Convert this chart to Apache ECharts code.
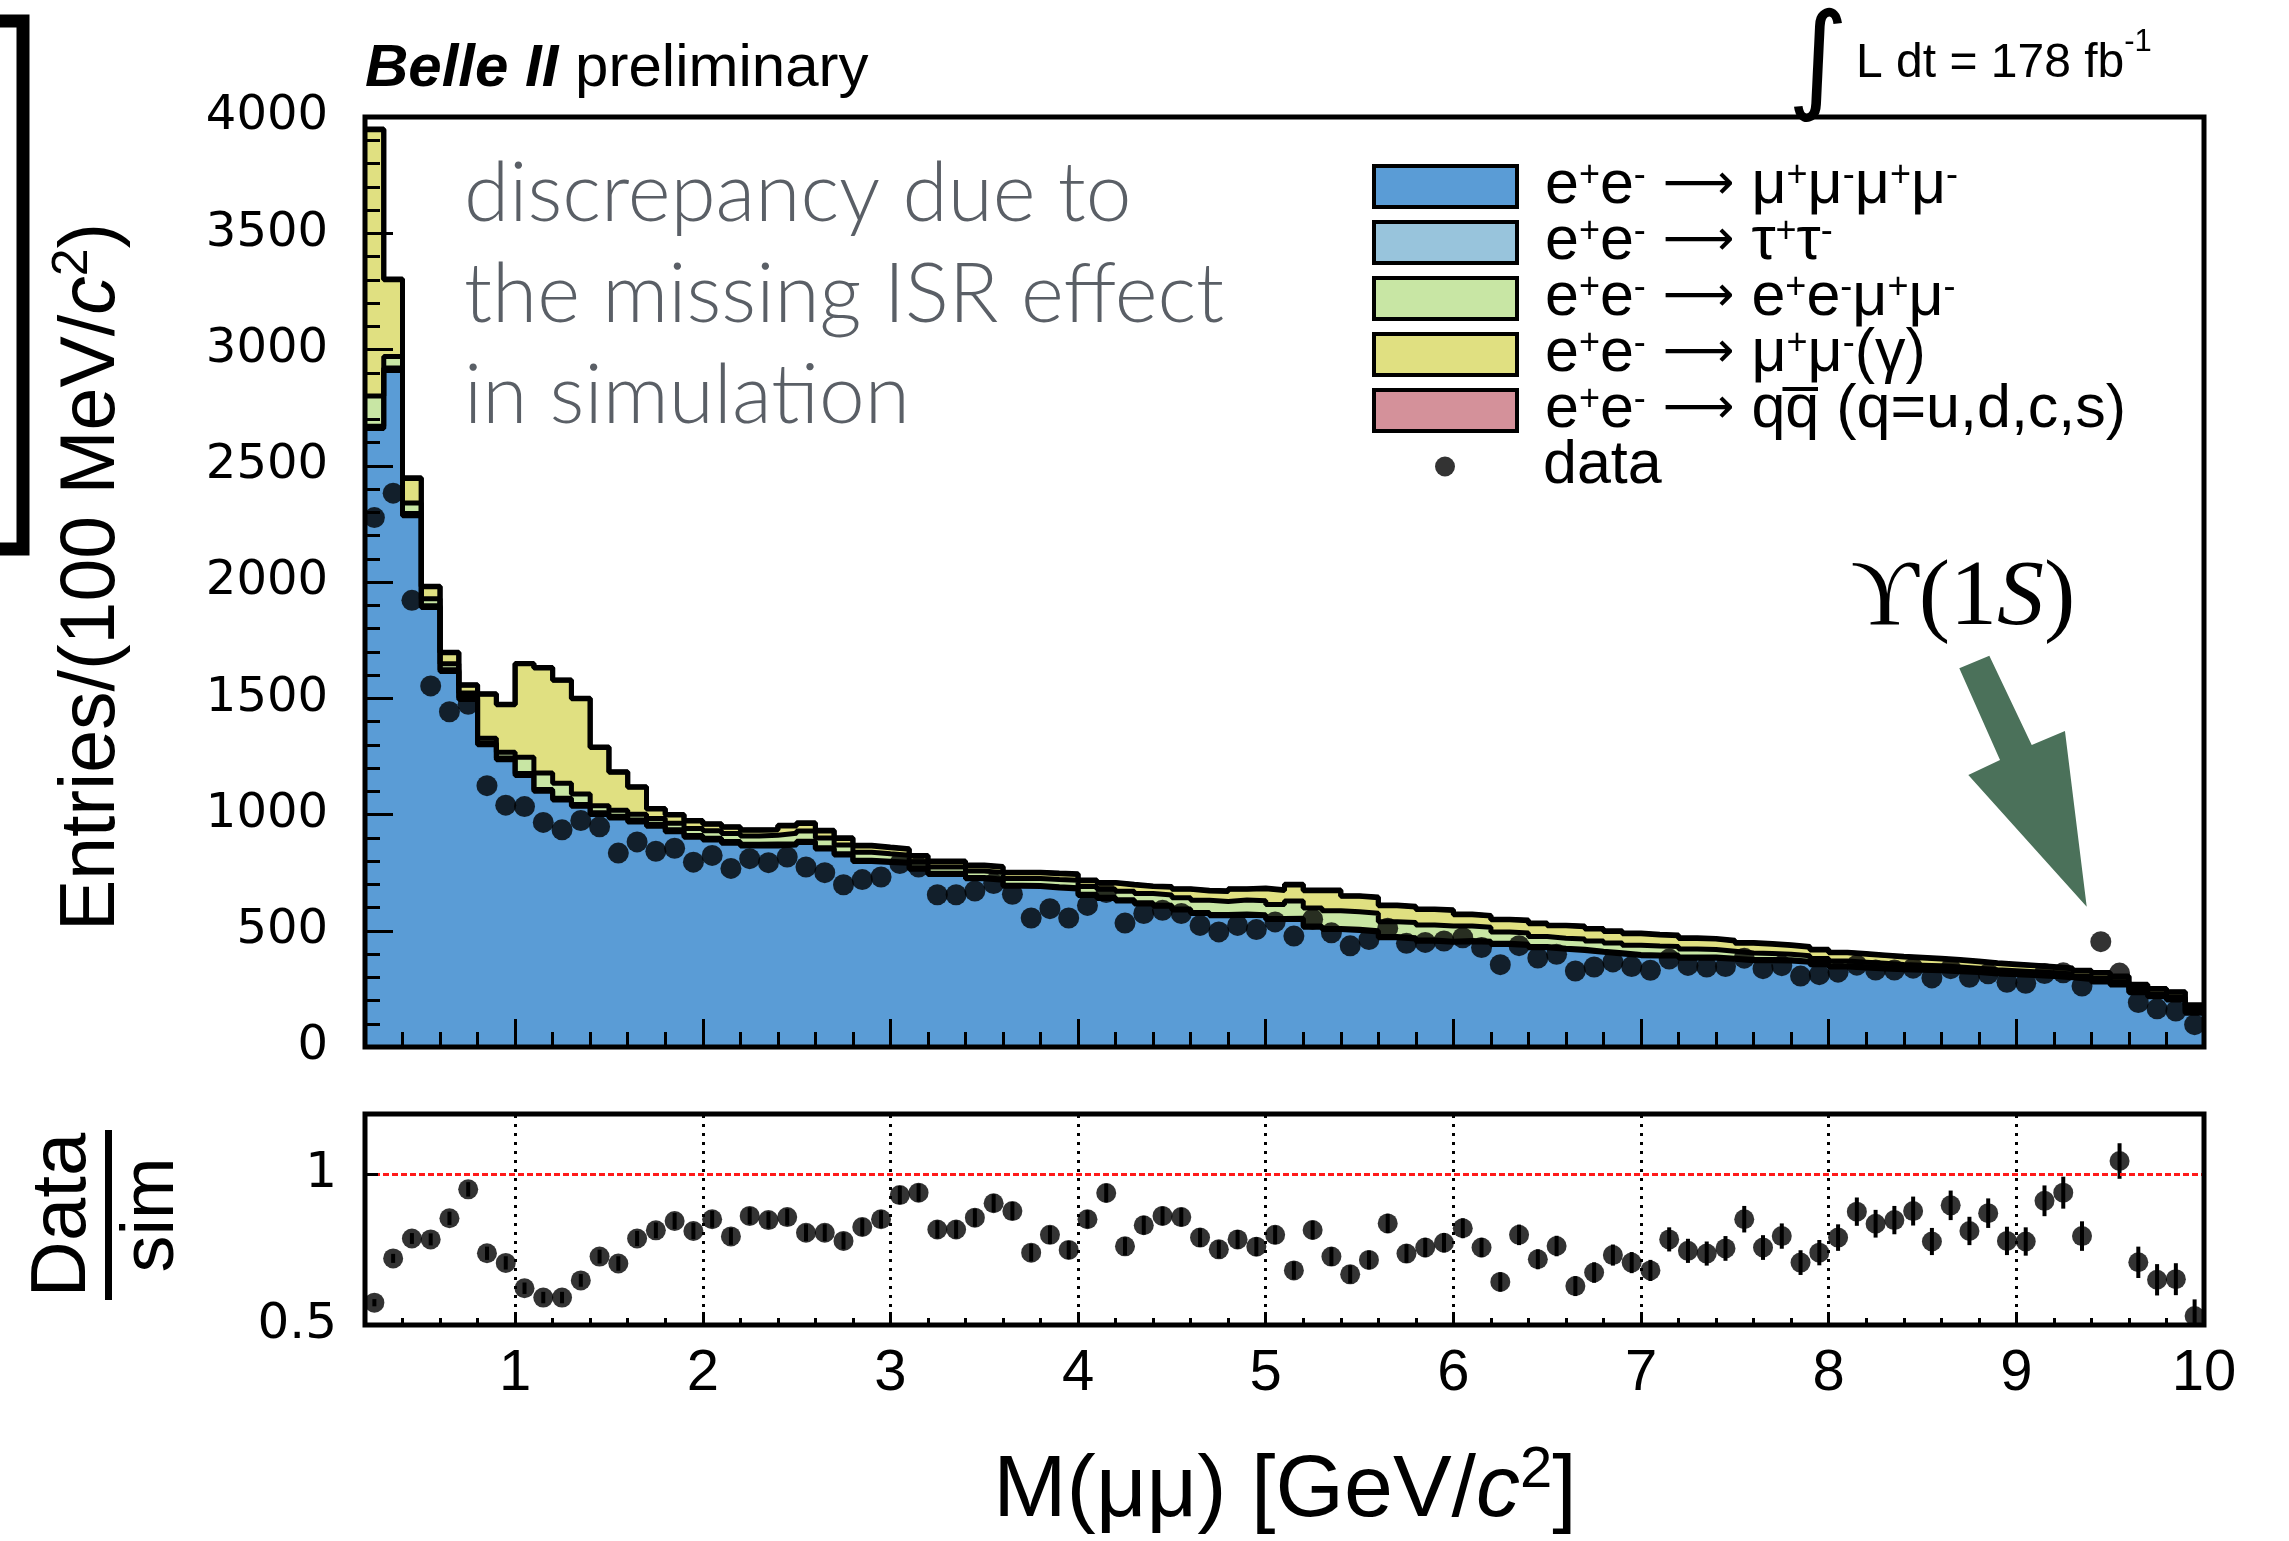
<!DOCTYPE html>
<html>
<head>
<meta charset="utf-8">
<script src="https://cdn.jsdelivr.net/npm/echarts@6/dist/echarts.min.js"></script>
<style>
  html, body { margin: 0; padding: 0; background: #ffffff; }
  #chart { width: 2289px; height: 1541px; }
</style>
</head>
<body>
<div id="chart"></div>
<script>
// Dimuon invariant mass, 100 MeV bins from 0.2 to 10.0 GeV/c^2
const xMin = 0.2;
const xMax = 10.0;
const binWidth = 0.1;

// Simulated contributions per bin (stacked, bottom to top)
const fourMu = [2660,2910,2285,1890,1615,1495,1300,1235,1168,1100,
  1062,1035,1000,985,968,950,926,902,890,876,
  864,865,869,880,852,826,798,794,790,764,
  742,742,724,717,691,690,684,680,652,639,
  628,615,605,589,574,565,567,564,548,549,
  515,505,501,495,470,465,455,450,453,450,
  441,437,427,420,415,407,400,393,391,391,
  382,382,377,371,371,370,364,354,344,340,
  336,332,330,328,324,320,314,311,307,303,
  298,290,280,267,233,216,202,145];
const tauTau = [10,10,10,8,8,8,8,8,8,8,
  8,8,8,8,8,8,8,8,8,8,
  8,8,5,5,5,5,5,5,5,5,
  5,5,5,5,5,5,5,5,5,5,
  5,5,5,5,5,5,5,5,5,5,
  5,5,5,5,5,5,5,5,5,5,
  5,5,5,5,5,5,5,5,5,5,
  5,5,5,5,5,5,5,5,5,5,
  5,5,5,5,5,5,5,5,5,5,
  5,5,5,5,5,5,5,5];
const eeMuMu = [130,50,45,30,25,20,20,25,70,70,
  64,45,30,25,25,25,28,30,32,34,
  36,38,45,44,42,38,35,32,30,28,
  27,27,28,28,29,30,31,32,33,35,
  37,40,44,48,52,56,60,60,60,74,
  78,76,76,75,64,65,65,65,62,60,
  49,48,43,43,45,44,42,40,38,36,
  34,32,30,28,26,24,23,22,21,20,
  19,18,17,16,15,14,13,12,12,11,
  11,10,10,9,9,8,8,7];
const muMuGamma = [1145,330,105,52,48,33,189,204,402,452,
  443,410,250,164,116,41,36,32,28,27,
  24,22,32,32,30,28,27,26,25,24,
  23,23,23,23,24,24,25,25,25,26,
  27,30,33,36,40,43,46,52,60,69,
  74,86,66,67,69,67,66,67,49,48,
  52,53,55,53,52,51,50,49,48,47,
  46,45,44,42,40,38,37,36,35,34,
  33,32,31,30,29,28,27,26,25,24,
  23,22,22,21,20,20,20,22];
const qqbar = [3,3,3,2,2,2,2,2,2,2,
  2,2,2,2,2,2,2,2,2,2,
  2,2,3,3,3,3,3,3,3,3,
  3,3,3,3,3,3,3,3,3,3,
  3,3,3,3,3,3,3,3,3,3,
  3,3,3,3,3,3,3,3,3,3,
  3,3,3,3,3,3,3,3,3,3,
  3,3,3,3,3,3,3,3,3,3,
  3,3,3,3,3,3,3,3,3,3,
  3,3,3,3,3,3,3,3];

// Observed events per bin
const dataCounts = [2277,2382,1921,1553,1442,1474,1124,1040,1034,966,
  934,974,947,834,882,842,855,795,824,768,
  810,793,817,774,750,698,720,731,789,774,
  655,655,671,703,657,555,595,555,609,664,
  533,574,588,574,523,495,523,505,538,477,
  550,491,435,462,511,446,450,456,470,428,
  354,436,383,399,327,344,366,346,330,378,
  351,344,346,382,337,350,305,311,322,352,
  331,331,339,297,337,300,315,278,274,316,
  319,262,453,318,191,164,155,96];

// Data / simulation ratio and its uncertainty
const ratio = [0.574,0.721,0.787,0.784,0.854,0.950,0.738,0.706,0.622,0.591,
  0.591,0.648,0.727,0.704,0.787,0.814,0.845,0.812,0.851,0.794,
  0.862,0.848,0.858,0.806,0.806,0.779,0.825,0.851,0.931,0.939,
  0.817,0.817,0.856,0.904,0.878,0.740,0.799,0.749,0.851,0.938,
  0.761,0.831,0.862,0.858,0.790,0.751,0.784,0.760,0.799,0.681,
  0.815,0.727,0.668,0.716,0.837,0.737,0.757,0.773,0.821,0.757,
  0.643,0.799,0.718,0.762,0.629,0.674,0.732,0.707,0.681,0.784,
  0.746,0.737,0.754,0.851,0.757,0.795,0.707,0.740,0.790,0.876,
  0.836,0.848,0.878,0.777,0.897,0.812,0.871,0.779,0.777,0.912,
  0.939,0.795,1.416,1.044,0.708,0.650,0.652,0.530];
const ratioErr = [0.012,0.015,0.018,0.020,0.022,0.024,0.022,0.022,0.019,0.019,
  0.019,0.021,0.023,0.024,0.025,0.026,0.027,0.027,0.028,0.028,
  0.028,0.028,0.028,0.028,0.028,0.028,0.029,0.029,0.030,0.030,
  0.030,0.030,0.030,0.030,0.030,0.029,0.030,0.030,0.030,0.031,
  0.030,0.031,0.031,0.031,0.031,0.030,0.031,0.031,0.031,0.030,
  0.031,0.031,0.030,0.031,0.032,0.031,0.032,0.032,0.033,0.032,
  0.032,0.034,0.033,0.034,0.033,0.034,0.035,0.035,0.035,0.040,
  0.040,0.040,0.041,0.044,0.041,0.042,0.041,0.042,0.044,0.047,
  0.046,0.047,0.048,0.045,0.049,0.047,0.049,0.047,0.047,0.051,
  0.053,0.049,0.067,0.059,0.052,0.052,0.053,0.055];

// Axis ticks and labels
const majorTicks = [1,2,3,4,5,6,7,8,9,10];
const ratioGridLines = [1,2,3,4,5,6,7,8,9];
const ratioLabels = [0.5, 1];
const yMainMax = 4000;
const ratioMin = 0.5, ratioMax = 1.2;

// Legend entries (bottom to top of the stack)
const componentNames = ['e+e- → μ+μ-μ+μ-', 'e+e- → τ+τ-', 'e+e- → e+e-μ+μ-', 'e+e- → μ+μ-(γ)', 'e+e- → qq̄ (q=u,d,c,s)'];
const componentRich = [
  '{g|}{n|e}{s|+}{n|e}{s|-}{n| }{a|⟶}{n| μ}{s|+}{n|μ}{s|-}{n|μ}{s|+}{n|μ}{s|-}',
  '{g|}{n|e}{s|+}{n|e}{s|-}{n| }{a|⟶}{n| τ}{s|+}{n|τ}{s|-}',
  '{g|}{n|e}{s|+}{n|e}{s|-}{n| }{a|⟶}{n| e}{s|+}{n|e}{s|-}{n|μ}{s|+}{n|μ}{s|-}',
  '{g|}{n|e}{s|+}{n|e}{s|-}{n| }{a|⟶}{n| μ}{s|+}{n|μ}{s|-}{n|(γ)}',
  '{g|}{n|e}{s|+}{n|e}{s|-}{n| }{a|⟶}{n| qq̅ (q=u,d,c,s)}'
];
const componentColors = ['#5a9cd6', '#98c4dc', '#c8e6a4', '#e0e081', '#d4919a'];

// Upsilon(1S) pointer, in (GeV/c^2, entries)
const arrowShape = [[8.696,1629],[8.856,1683],[9.082,1299],[9.259,1359],[9.375,603],[8.744,1170],[8.913,1234]];

// ---- layout ----
const PL = 365, PW = 1839;
const MT = 117, MH = 930;
const RT = 1114, RH = 211;
const SANS = 'Liberation Sans, Arial, Helvetica, sans-serif';
const WIDE = 'DejaVu Sans, Verdana, sans-serif';
const SERIF = 'Liberation Serif, Times New Roman, serif';
const LIGHT = 'Lato, Open Sans, sans-serif';

const nBins = fourMu.length;
const edges = Array.from({length: nBins + 1}, (_, i) => +(xMin + i * binWidth).toFixed(2));
const centers = Array.from({length: nBins}, (_, i) => +(xMin + (i + 0.5) * binWidth).toFixed(3));
const minorTicks = [];
for (let t = 0.4; t < xMax - 1e-6; t += 0.2) {
  const v = +t.toFixed(1);
  if (Math.abs(v - Math.round(v)) > 1e-6) minorTicks.push(v);
}

const layers = [fourMu, tauTau, eeMuMu, muMuGamma, qqbar];
const cumulative = [];
layers.forEach((arr, k) => {
  cumulative.push(arr.map((v, i) => v + (k > 0 ? cumulative[k - 1][i] : 0)));
});
const stepData = k => edges.map((x, i) => [x, cumulative[k][Math.min(i, nBins - 1)]]);

const series = [];
// filled areas, top layer first so lower layers paint over it
for (let k = layers.length - 1; k >= 0; k--) {
  series.push({
    type: 'line', name: componentNames[k], xAxisIndex: 0, yAxisIndex: 0,
    step: 'end', symbol: 'none', silent: true, z: 2,
    data: stepData(k),
    color: componentColors[k],
    itemStyle: { color: componentColors[k] },
    lineStyle: { opacity: 0, width: 0 },
    areaStyle: { color: componentColors[k], opacity: 1 }
  });
}
// black histogram outlines
for (let k = layers.length - 1; k >= 0; k--) {
  series.push({
    type: 'line', xAxisIndex: 0, yAxisIndex: 0,
    step: 'end', symbol: 'none', silent: true, z: 3,
    data: stepData(k),
    lineStyle: { color: '#000', width: 5 }
  });
}
series.push({
  type: 'scatter', name: 'data', xAxisIndex: 0, yAxisIndex: 0, z: 6,
  symbol: 'circle', symbolSize: 21, itemStyle: { color: '#000' },
  data: centers.map((x, i) => [x, dataCounts[i]])
});
// ratio uncertainties plus reference lines
series.push({
  type: 'custom', xAxisIndex: 1, yAxisIndex: 1, z: 4, silent: true,
  data: centers.map((x, i) => [x, ratio[i], ratioErr[i]]),
  renderItem: function (params, api) {
    const x = api.value(0), r = api.value(1), e = api.value(2);
    const lo = Math.max(r - e, ratioMin), hi = Math.min(r + e, ratioMax);
    if (hi <= lo) return;
    const p1 = api.coord([x, lo]), p2 = api.coord([x, hi]);
    return { type: 'line', shape: { x1: p1[0], y1: p1[1], x2: p2[0], y2: p2[1] },
             style: { stroke: '#000', lineWidth: 4 } };
  },
  markLine: {
    silent: true, symbol: ['none', 'none'], label: { show: false },
    lineStyle: { color: '#000', type: [3, 6], width: 3 },
    data: ratioGridLines.map(v => ({ xAxis: v })).concat([
      { yAxis: 1, lineStyle: { color: '#ff1a1a', type: [6, 3], width: 3 } }
    ])
  }
});
series.push({
  type: 'scatter', xAxisIndex: 1, yAxisIndex: 1, z: 6, silent: true,
  symbol: 'circle', symbolSize: 20, itemStyle: { color: '#000' },
  data: centers.map((x, i) => [x, ratio[i]])
});

const tickStyle = { color: '#000', width: 3 };
const baseX = { type: 'value', min: xMin, max: xMax, axisLine: { show: false }, splitLine: { show: false }, z: 10 };

const legendRich = {
  g: { width: 23 },
  n: { fontSize: 61, fontFamily: SANS, color: '#000', lineHeight: 56 },
  a: { fontSize: 50, fontFamily: WIDE, color: '#000', lineHeight: 56 },
  s: { fontSize: 36, fontFamily: SANS, color: '#000', lineHeight: 16, verticalAlign: 'top' }
};

const option = {
  animation: false,
  backgroundColor: '#ffffff',
  grid: [
    { left: PL, top: MT, width: PW, height: MH, containLabel: false, outerBoundsMode: 'none' },
    { left: PL, top: RT, width: PW, height: RH, containLabel: false, outerBoundsMode: 'none' },
    { left: PL, top: MT, width: PW, height: MH, containLabel: false, outerBoundsMode: 'none' },
    { left: PL, top: RT, width: PW, height: RH, containLabel: false, outerBoundsMode: 'none' }
  ],
  xAxis: [
    Object.assign({}, baseX, { gridIndex: 0, axisLabel: { show: false },
      axisTick: { inside: true, length: 28, lineStyle: tickStyle, customValues: majorTicks } }),
    Object.assign({}, baseX, { gridIndex: 1,
      axisLabel: { show: true, customValues: majorTicks, fontSize: 58, fontFamily: SANS, color: '#000', margin: 20 },
      axisTick: { inside: true, length: 13, lineStyle: tickStyle, customValues: majorTicks } }),
    Object.assign({}, baseX, { gridIndex: 2, axisLabel: { show: false },
      axisTick: { inside: true, length: 15, lineStyle: tickStyle, customValues: minorTicks } }),
    Object.assign({}, baseX, { gridIndex: 3, axisLabel: { show: false },
      axisTick: { inside: true, length: 7, lineStyle: tickStyle, customValues: minorTicks } })
  ],
  yAxis: [
    { gridIndex: 0, type: 'value', min: 0, max: yMainMax, interval: 500, z: 10,
      axisLine: { show: false }, splitLine: { show: false },
      axisLabel: { fontSize: 48, fontFamily: WIDE, color: '#000', margin: 37, formatter: v => String(v) },
      axisTick: { inside: true, length: 28, lineStyle: tickStyle },
      minorTick: { show: true, splitNumber: 5, length: 15, lineStyle: tickStyle } },
    { gridIndex: 1, type: 'value', min: ratioMin, max: ratioMax, z: 10,
      axisLine: { show: false }, splitLine: { show: false },
      axisLabel: { customValues: ratioLabels, fontSize: 50, fontFamily: WIDE, color: '#000', margin: 28, formatter: v => String(v) },
      axisTick: { inside: true, length: 13, lineStyle: tickStyle, customValues: ratioLabels } },
    { gridIndex: 2, type: 'value', min: 0, max: yMainMax, show: false },
    { gridIndex: 3, type: 'value', min: ratioMin, max: ratioMax, show: false }
  ],
  legend: [
    { data: componentNames, orient: 'vertical', left: 1372, top: 156, padding: 0,
      itemWidth: 143, itemHeight: 41, itemGap: -5, icon: 'rect', selectedMode: false,
      itemStyle: { borderColor: '#000', borderWidth: 4 },
      formatter: name => componentRich[componentNames.indexOf(name)],
      textStyle: { rich: legendRich } },
    { data: ['data'], orient: 'vertical', left: 1435, top: 436, padding: 0,
      itemWidth: 20, itemHeight: 20, icon: 'circle', selectedMode: false,
      itemStyle: { color: '#000' },
      formatter: () => '{g|}{n|data}',
      textStyle: { rich: Object.assign({}, legendRich, { g: { width: 83 } }) } }
  ],
  series: series
};

const chart = echarts.init(document.getElementById('chart'), null, { renderer: 'canvas', width: 2289, height: 1541 });
chart.setOption(option);

const textEl = (x, y, style, extra) => Object.assign({
  type: 'text', x: x, y: y, z: 120, silent: true,
  style: Object.assign({ align: 'left', verticalAlign: 'middle', fill: '#000' }, style)
}, extra || {});
const lightLine = (y, s) => textEl(464, y, { text: s, fontSize: 82, fontFamily: LIGHT, fontWeight: 300, fill: '#5a5f66' });

const graphics = [
  // plot frames
  { type: 'rect', z: 110, silent: true, shape: { x: PL, y: MT, width: PW, height: MH },
    style: { fill: 'none', stroke: '#000', lineWidth: 5 } },
  { type: 'rect', z: 110, silent: true, shape: { x: PL, y: RT, width: PW, height: RH },
    style: { fill: 'none', stroke: '#000', lineWidth: 5 } },
  // bracket at the left margin
  { type: 'polyline', z: 110, silent: true, shape: { points: [[-10, 21], [23, 21], [23, 549], [-10, 549]] },
    style: { fill: 'none', stroke: '#000', lineWidth: 13 } },
  // experiment label
  textEl(365, 69, { text: '{b|Belle II}{p| preliminary}', rich: {
    b: { fontSize: 60, fontFamily: SANS, fontWeight: 'bold', fontStyle: 'italic', fill: '#000' },
    p: { fontSize: 60, fontFamily: SANS, fill: '#000' } } }),
  // luminosity
  textEl(1818, 66, { text: '∫', fontSize: 118, fontFamily: WIDE, align: 'center' }),
  textEl(1856, 64, { text: '{n|L dt = 178 fb}{s|-1}', rich: {
    n: { fontSize: 48, fontFamily: SANS, fill: '#000', lineHeight: 74 },
    s: { fontSize: 31, fontFamily: SANS, fill: '#000', lineHeight: 24, verticalAlign: 'top' } } }),
  // annotation
  lightLine(195, 'discrepancy due to'),
  lightLine(296, 'the missing ISR effect'),
  lightLine(397, 'in simulation'),
  // resonance label
  textEl(1963, 599, { text: '{n|ϒ(1}{i|S}{n|)}', align: 'center', rich: {
    n: { fontSize: 94, fontFamily: SERIF, fill: '#000' },
    i: { fontSize: 94, fontFamily: SERIF, fontStyle: 'italic', fill: '#000' } } }),
  // axis titles
  textEl(1285, 1492, { text: '{n|M(μμ) [GeV/}{i|c}{s|2}{n|]}', align: 'center', rich: {
    n: { fontSize: 88, fontFamily: SANS, fill: '#000', lineHeight: 100 },
    i: { fontSize: 88, fontFamily: SANS, fontStyle: 'italic', fill: '#000', lineHeight: 100 },
    s: { fontSize: 58, fontFamily: SANS, fill: '#000', lineHeight: 40, verticalAlign: 'top' } } }),
  textEl(93, 577, { text: '{n|Entries/(100 MeV/}{i|c}{s|2}{n|)}', align: 'center', rich: {
    n: { fontSize: 77, fontFamily: SANS, fill: '#000', lineHeight: 90 },
    i: { fontSize: 77, fontFamily: SANS, fontStyle: 'italic', fill: '#000', lineHeight: 90 },
    s: { fontSize: 50, fontFamily: SANS, fill: '#000', lineHeight: 34, verticalAlign: 'top' } } },
    { rotation: Math.PI / 2 }),
  textEl(63, 1215, { text: 'Data', fontSize: 78, fontFamily: SANS, align: 'center' }, { rotation: Math.PI / 2 }),
  { type: 'line', z: 120, silent: true, shape: { x1: 108.5, y1: 1130, x2: 108.5, y2: 1300 }, style: { stroke: '#000', lineWidth: 7 } },
  textEl(153, 1215, { text: 'sim', fontSize: 74, fontFamily: SANS, align: 'center' }, { rotation: Math.PI / 2 })
];

const arrowPts = arrowShape.map(p => chart.convertToPixel({ xAxisIndex: 0, yAxisIndex: 0 }, p));
graphics.push({ type: 'polygon', z: 100, silent: true, shape: { points: arrowPts }, style: { fill: '#4b715a' } });

chart.setOption({ graphic: graphics });
</script>
</body>
</html>
